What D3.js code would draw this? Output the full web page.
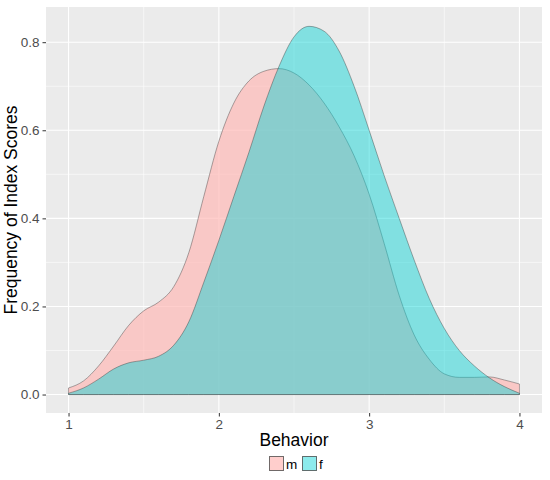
<!DOCTYPE html>
<html>
<head>
<meta charset="utf-8">
<script src="https://cdn.jsdelivr.net/npm/d3@7"></script>
<style>
    body { margin: 0; background: #fff; }
    svg { font-family: "Liberation Sans", Arial, sans-serif; }
</style>
</head>
<body>
<script>
var behavior = d3.range(31).map(function (i) { return +(1 + i * 0.1).toFixed(1); });

var densityM = [0.015, 0.031, 0.065, 0.11, 0.157, 0.19, 0.21, 0.245, 0.322,
    0.45, 0.575, 0.662, 0.712, 0.734, 0.740, 0.730, 0.703, 0.662, 0.608,
    0.542, 0.455, 0.343, 0.225, 0.135, 0.08, 0.047, 0.039, 0.039, 0.04,
    0.033, 0.024];

var densityF = [0.003, 0.015, 0.035, 0.058, 0.072, 0.078, 0.087, 0.112,
    0.165, 0.255, 0.35, 0.45, 0.55, 0.655, 0.745, 0.812, 0.836, 0.825,
    0.78, 0.70, 0.60, 0.497, 0.40, 0.305, 0.218, 0.15, 0.10, 0.065,
    0.038, 0.018, 0.003];

var groups = ["m", "f"];
var groupColors = ["#FFB9B6", "#00D2D4"];
var groupAlpha = [0.7, 0.45];

var xTicks = [1, 2, 3, 4];
var yTicks = [0, 0.2, 0.4, 0.6, 0.8];

// Layout (ggplot-like)
var W = 550, H = 480;
var margin = {top: 7, right: 8, bottom: 67, left: 46};
var width = W - margin.left - margin.right,
    height = H - margin.top - margin.bottom;

var svg = d3.select("body").append("svg")
    .attr("width", W)
    .attr("height", H);

var g = svg.append("g")
    .attr("transform", "translate(" + margin.left + "," + margin.top + ")");

// Scales with the usual 5% expansion
var xScale = d3.scaleLinear().domain([0.85, 4.15]).range([0, width]);
var yMax = 0.838;
var yScale = d3.scaleLinear()
    .domain([-0.05 * yMax, yMax * 1.05])
    .range([height, 0]);

// Panel background
g.append("rect")
    .attr("width", width)
    .attr("height", height)
    .attr("fill", "#EBEBEB");

// Minor grid
[1.5, 2.5, 3.5].forEach(function (v) {
    g.append("line")
        .attr("x1", xScale(v)).attr("x2", xScale(v))
        .attr("y1", 0).attr("y2", height)
        .attr("stroke", "#fff").attr("stroke-width", 0.55);
});
[0.1, 0.3, 0.5, 0.7].forEach(function (v) {
    g.append("line")
        .attr("x1", 0).attr("x2", width)
        .attr("y1", yScale(v)).attr("y2", yScale(v))
        .attr("stroke", "#fff").attr("stroke-width", 0.55);
});

// Major grid
xTicks.forEach(function (v) {
    g.append("line")
        .attr("x1", xScale(v)).attr("x2", xScale(v))
        .attr("y1", 0).attr("y2", height)
        .attr("stroke", "#fff").attr("stroke-width", 1.1);
});
yTicks.forEach(function (v) {
    g.append("line")
        .attr("x1", 0).attr("x2", width)
        .attr("y1", yScale(v)).attr("y2", yScale(v))
        .attr("stroke", "#fff").attr("stroke-width", 1.1);
});

// Density areas, m first then f on top
var series = [densityM, densityF];

var area = d3.area()
    .x(function (d) { return xScale(d[0]); })
    .y0(yScale(0))
    .y1(function (d) { return yScale(d[1]); })
    .curve(d3.curveMonotoneX);

series.forEach(function (vals, i) {
    var pts = behavior.map(function (b, j) { return [b, vals[j]]; });
    g.append("path")
        .datum(pts)
        .attr("d", function (d) { return area(d) + "Z"; })
        .attr("fill", groupColors[i])
        .attr("fill-opacity", groupAlpha[i])
        .attr("stroke", "#333")
        .attr("stroke-opacity", 0.5)
        .attr("stroke-width", 0.8);
});

// Axes
var xAxis = d3.axisBottom(xScale).tickValues(xTicks)
    .tickFormat(d3.format("d")).tickSize(3.5).tickPadding(3);
var yAxis = d3.axisLeft(yScale).tickValues(yTicks)
    .tickFormat(d3.format(".1f")).tickSize(3.5).tickPadding(3);

var gx = g.append("g")
    .attr("transform", "translate(0," + height + ")")
    .call(xAxis);
var gy = g.append("g").call(yAxis);

[gx, gy].forEach(function (ax) {
    ax.select(".domain").remove();
    ax.selectAll(".tick line").attr("stroke", "#333").attr("stroke-width", 1);
    ax.selectAll(".tick text")
        .attr("fill", "#4D4D4D")
        .attr("font-size", "13.5px")
        .attr("font-family", "Liberation Sans, Arial, sans-serif");
});

// Axis titles
svg.append("text")
    .attr("x", margin.left + width / 2)
    .attr("y", 446)
    .attr("text-anchor", "middle")
    .attr("font-size", "17.5px")
    .attr("fill", "#000")
    .text("Behavior");

svg.append("text")
    .attr("transform", "translate(17," + (margin.top + height / 2) + ") rotate(-90)")
    .attr("text-anchor", "middle")
    .attr("font-size", "17.5px")
    .attr("fill", "#000")
    .text("Frequency of Index Scores");

// Legend
var legend = svg.append("g").attr("transform", "translate(269,456)");
var keyX = [0, 33];
groups.forEach(function (name, i) {
    legend.append("rect")
        .attr("x", keyX[i]).attr("y", 0)
        .attr("width", 15).attr("height", 15)
        .attr("fill", "#fff");
    legend.append("rect")
        .attr("x", keyX[i] + 0.5).attr("y", 0.5)
        .attr("width", 14).attr("height", 14)
        .attr("fill", groupColors[i])
        .attr("fill-opacity", groupAlpha[i])
        .attr("stroke", "#333")
        .attr("stroke-opacity", 0.7)
        .attr("stroke-width", 1);
    legend.append("text")
        .attr("x", keyX[i] + 17)
        .attr("y", 12.5)
        .attr("font-size", "13.5px")
        .attr("fill", "#000")
        .text(name);
});
</script>
</body>
</html>
